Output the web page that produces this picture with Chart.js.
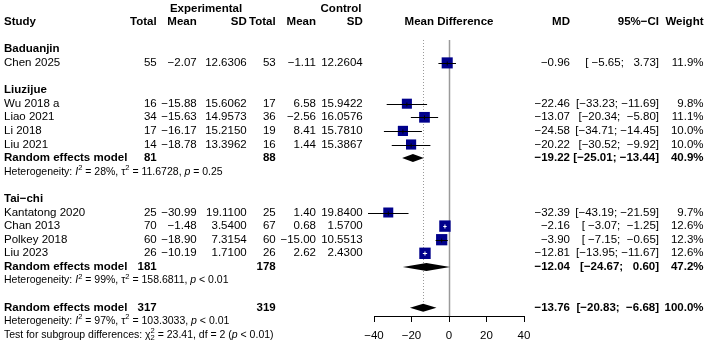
<!DOCTYPE html>
<html>
<head>
<meta charset="utf-8">
<script src="https://cdn.jsdelivr.net/npm/chart.js@4.4.1/dist/chart.umd.min.js"></script>
<style>
    html, body { margin: 0; padding: 0; background: #fff; }
    #wrap { width: 708px; height: 346px; position: relative; }
</style>
</head>
<body>
<div id="wrap"><canvas id="forestChart"></canvas></div>
<script>
// 연구별 데이터
const groups = ['Baduanjin', 'Liuzijue', 'Tai−chi'];
const studies = ['Chen 2025', 'Wu 2018 a', 'Liao 2021', 'Li 2018', 'Liu 2021',
    'Kantatong 2020', 'Chan 2013', 'Polkey 2018', 'Liu 2023'];
const studyGroup = [0, 1, 1, 1, 1, 2, 2, 2, 2];
const totalE = [55, 16, 34, 17, 14, 25, 70, 60, 26];
const meanE = [-2.07, -15.88, -15.63, -16.17, -18.78, -30.99, -1.48, -18.90, -10.19];
const sdE = [12.6306, 15.6062, 14.9573, 15.2150, 13.3962, 19.1100, 3.5400, 7.3154, 1.7100];
const totalC = [53, 17, 36, 19, 16, 25, 67, 60, 26];
const meanC = [-1.11, 6.58, -2.56, 8.41, 1.44, 1.40, 0.68, -15.00, 2.62];
const sdC = [12.2604, 15.9422, 16.0576, 15.7810, 15.3867, 19.8400, 1.5700, 10.5513, 2.4300];
const md = [-0.96, -22.46, -13.07, -24.58, -20.22, -32.39, -2.16, -3.90, -12.81];
const ciLow = [-5.65, -33.23, -20.34, -34.71, -30.52, -43.19, -3.07, -7.15, -13.95];
const ciHigh = [3.73, -11.69, -5.80, -14.45, -9.92, -21.59, -1.25, -0.65, -11.67];
const weight = [11.9, 9.8, 11.1, 10.0, 10.0, 9.7, 12.6, 12.3, 12.6];

// 하위그룹 요약 (Baduanjin은 연구 1개라 요약 없음)
const subTotalE = [null, 81, 181];
const subTotalC = [null, 88, 178];
const subMd = [null, -19.22, -12.04];
const subLow = [null, -25.01, -24.67];
const subHigh = [null, -13.44, 0.60];
const subWeight = [null, 40.9, 47.2];
const subI2 = [null, '28%', '99%'];
const subTau2 = [null, '11.6728', '158.6811'];
const subP = [null, '= 0.25', '< 0.01'];

// 전체 요약
const allTotalE = 317, allTotalC = 319;
const allMd = -13.76, allLow = -20.83, allHigh = -6.68, allWeight = 100.0;
const allI2 = '97%', allTau2 = '103.3033', allP = '< 0.01';
const testChi2 = '23.41', testDf = 2, testP = '< 0.01';

const xTicks = [-40, -20, 0, 20, 40];

const FONT = '"Liberation Sans", Arial, sans-serif';
const FS = 11.5;
const FS_SMALL = 10.5;

// 숫자 포맷 (R 스타일 마이너스)
function fmt(v, d) {
    return v.toFixed(d).replace('-', '−');
}

// 행 배치 계산
const groupRow = [], studyRow = [], subRow = [];
let row = 3;
groups.forEach((g, gi) => {
    groupRow[gi] = row++;
    studies.forEach((s, i) => {
        if (studyGroup[i] === gi) studyRow[i] = row++;
    });
    if (subMd[gi] !== null) {
        subRow[gi] = row;
        row += 2;
    }
    row++;
});
const allRow = row;

// CI 문자열 (폭 맞춤)
const lowStrs = ciLow.concat(subLow.filter(v => v !== null), [allLow]).map(v => fmt(v, 2));
const highStrs = ciHigh.concat(subHigh.filter(v => v !== null), [allHigh]).map(v => fmt(v, 2));
const lowW = Math.max(...lowStrs.map(s => s.length));
const highW = Math.max(...highStrs.map(s => s.length));
function ciText(lo, hi) {
    return '[' + fmt(lo, 2).padStart(lowW, ' ') + '; ' + fmt(hi, 2).padStart(highW, ' ') + ']';
}

function boxSide(w) {
    return 11.4 * Math.sqrt(w / 12.6);
}

function drawRich(ctx, parts, x, y, size) {
    ctx.textAlign = 'left';
    parts.forEach(p => {
        if (p.supsub) {
            const s = size * 0.72;
            ctx.font = s + 'px ' + FONT;
            ctx.fillText(p.supsub[0], x, y - size * 0.38);
            ctx.fillText(p.supsub[1], x, y + size * 0.3);
            x += ctx.measureText(p.supsub[0]).width;
            return;
        }
        const s = p.sup ? size * 0.72 : size;
        ctx.font = (p.it ? 'italic ' : '') + s + 'px ' + FONT;
        const dy = p.sup ? -size * 0.38 : 0;
        ctx.fillText(p.t, x, y + dy);
        x += ctx.measureText(p.t).width;
    });
}

function hetParts(i2, tau2, p) {
    return [
        { t: 'Heterogeneity: ' }, { t: 'I', it: true }, { t: '2', sup: true },
        { t: ' = ' + i2 + ', ' }, { t: 'τ' }, { t: '2', sup: true },
        { t: ' = ' + tau2 + ', ' }, { t: 'p', it: true }, { t: ' ' + p }
    ];
}

// 표 텍스트를 그리는 플러그인
const tablePlugin = {
    id: 'forestTable',
    afterDraw(chart) {
        const ctx = chart.ctx;
        const yS = chart.scales.y;
        const xS = chart.scales.x;
        const Y = r => yS.getPixelForValue(r);
        const col = { totE: 156.7, meanE: 196.7, sdE: 246.7, totC: 275.7, meanC: 316, sdC: 362.7,
            md: 570, ci: 659, w: 703.5 };

        ctx.save();
        ctx.fillStyle = '#000';
        ctx.textBaseline = 'middle';

        function txt(s, x, y, align, bold, size) {
            ctx.font = (bold ? 'bold ' : '') + (size || FS) + 'px ' + FONT;
            ctx.textAlign = align;
            ctx.fillText(s, x, y);
        }

        // 헤더
        txt('Experimental', 206, Y(0), 'center', true);
        txt('Control', 341, Y(0), 'center', true);
        const hy = Y(1);
        txt('Study', 4, hy, 'left', true);
        txt('Total', col.totE, hy, 'right', true);
        txt('Mean', col.meanE, hy, 'right', true);
        txt('SD', col.sdE, hy, 'right', true);
        txt('Total', col.totC, hy, 'right', true);
        txt('Mean', col.meanC, hy, 'right', true);
        txt('SD', col.sdC, hy, 'right', true);
        txt('Mean Difference', xS.getPixelForValue(0), hy, 'center', true);
        txt('MD', col.md, hy, 'right', true);
        txt('95%−CI', col.ci, hy, 'right', true);
        txt('Weight', col.w, hy, 'right', true);

        groups.forEach((g, gi) => {
            txt(g, 4, Y(groupRow[gi]), 'left', true);
            if (subMd[gi] !== null) {
                const y = Y(subRow[gi]);
                txt('Random effects model', 4, y, 'left', true);
                txt(String(subTotalE[gi]), col.totE, y, 'right', true);
                txt(String(subTotalC[gi]), col.totC, y, 'right', true);
                txt(fmt(subMd[gi], 2), col.md, y, 'right', true);
                txt(ciText(subLow[gi], subHigh[gi]), col.ci, y, 'right', true);
                txt(subWeight[gi].toFixed(1) + '%', col.w, y, 'right', true);
                drawRich(ctx, hetParts(subI2[gi], subTau2[gi], subP[gi]), 4, Y(subRow[gi] + 1), FS_SMALL);
            }
        });

        studies.forEach((s, i) => {
            const y = Y(studyRow[i]);
            txt(s, 4, y, 'left', false);
            txt(String(totalE[i]), col.totE, y, 'right');
            txt(fmt(meanE[i], 2), col.meanE, y, 'right');
            txt(sdE[i].toFixed(4), col.sdE, y, 'right');
            txt(String(totalC[i]), col.totC, y, 'right');
            txt(fmt(meanC[i], 2), col.meanC, y, 'right');
            txt(sdC[i].toFixed(4), col.sdC, y, 'right');
            txt(fmt(md[i], 2), col.md, y, 'right');
            txt(ciText(ciLow[i], ciHigh[i]), col.ci, y, 'right');
            txt(weight[i].toFixed(1) + '%', col.w, y, 'right');
        });

        // 전체 요약
        const ay = Y(allRow);
        txt('Random effects model', 4, ay, 'left', true);
        txt(String(allTotalE), col.totE, ay, 'right', true);
        txt(String(allTotalC), col.totC, ay, 'right', true);
        txt(fmt(allMd, 2), col.md, ay, 'right', true);
        txt(ciText(allLow, allHigh), col.ci, ay, 'right', true);
        txt(allWeight.toFixed(1) + '%', col.w, ay, 'right', true);
        drawRich(ctx, hetParts(allI2, allTau2, allP), 4, Y(allRow + 1), FS_SMALL);
        drawRich(ctx, [
            { t: 'Test for subgroup differences: ' }, { t: 'χ' }, { supsub: ['2', String(testDf)] },
            { t: ' = ' + testChi2 + ', df = ' + testDf + ' (' }, { t: 'p', it: true }, { t: ' ' + testP + ')' }
        ], 4, Y(allRow + 2), FS_SMALL);

        ctx.restore();
    }
};

// 기준선, CI 선, 다이아몬드를 그리는 플러그인
const marksPlugin = {
    id: 'forestMarks',
    beforeDatasetsDraw(chart) {
        const ctx = chart.ctx;
        const xS = chart.scales.x, yS = chart.scales.y;
        const area = chart.chartArea;
        ctx.save();
        // 0 기준선
        const x0 = Math.round(xS.getPixelForValue(0)) + 0.5;
        ctx.strokeStyle = '#9a9a9a';
        ctx.lineWidth = 1.5;
        ctx.beginPath();
        ctx.moveTo(x0, area.top);
        ctx.lineTo(x0, area.bottom);
        ctx.stroke();
        // 전체 효과 점선
        const xm = Math.round(xS.getPixelForValue(allMd)) + 0.5;
        ctx.lineWidth = 1;
        ctx.setLineDash([1, 2]);
        ctx.beginPath();
        ctx.moveTo(xm, area.top);
        ctx.lineTo(xm, yS.getPixelForValue(allRow - 0.2));
        ctx.stroke();
        ctx.restore();
    },
    afterDatasetsDraw(chart) {
        const ctx = chart.ctx;
        const xS = chart.scales.x, yS = chart.scales.y;
        ctx.save();
        ctx.lineWidth = 1;
        studies.forEach((s, i) => {
            const y = Math.round(yS.getPixelForValue(studyRow[i])) + 0.5;
            const xl = xS.getPixelForValue(ciLow[i]);
            const xh = xS.getPixelForValue(ciHigh[i]);
            const xc = xS.getPixelForValue(md[i]);
            const half = boxSide(weight[i]) / 2;
            const inside = xl > xc - half && xh < xc + half;
            ctx.strokeStyle = inside ? '#fff' : '#000';
            ctx.beginPath();
            ctx.moveTo(xl, y);
            ctx.lineTo(xh, y);
            ctx.moveTo(xc, y - 2);
            ctx.lineTo(xc, y + 2);
            ctx.stroke();
        });
        // 다이아몬드
        const diamonds = [];
        groups.forEach((g, gi) => {
            if (subMd[gi] !== null) diamonds.push([subMd[gi], subLow[gi], subHigh[gi], subRow[gi]]);
        });
        diamonds.push([allMd, allLow, allHigh, allRow]);
        ctx.fillStyle = '#000';
        diamonds.forEach(d => {
            const y = yS.getPixelForValue(d[3]);
            const xc = xS.getPixelForValue(d[0]);
            ctx.beginPath();
            ctx.moveTo(xS.getPixelForValue(d[1]), y);
            ctx.lineTo(xc, y - 4);
            ctx.lineTo(xS.getPixelForValue(d[2]), y);
            ctx.lineTo(xc, y + 4);
            ctx.closePath();
            ctx.fill();
        });
        ctx.restore();
    }
};

const ctx = document.getElementById('forestChart').getContext('2d');
new Chart(ctx, {
    type: 'scatter',
    data: {
        datasets: [{
            label: 'studies',
            data: studies.map((s, i) => ({ x: md[i], y: studyRow[i] })),
            pointStyle: 'rect',
            pointRadius: weight.map(w => boxSide(w) / 2 / Math.SQRT1_2),
            backgroundColor: '#00008B',
            borderColor: '#00008B',
            borderWidth: 0,
            clip: false
        }]
    },
    options: {
        responsive: true,
        maintainAspectRatio: false,
        animation: false,
        devicePixelRatio: 1,
        layout: { padding: { left: 374, right: 184, top: 40, bottom: 0 } },
        plugins: { legend: { display: false }, tooltip: { enabled: false } },
        scales: {
            x: {
                type: 'linear',
                min: -40,
                max: 40,
                afterBuildTicks: scale => { scale.ticks = xTicks.map(v => ({ value: v })); },
                afterFit: scale => { scale.height = 30; },
                border: { display: true, color: '#000', width: 1 },
                grid: { drawOnChartArea: false, drawTicks: true, tickLength: 6, color: '#000' },
                ticks: {
                    color: '#000',
                    padding: 7,
                    maxRotation: 0,
                    font: { family: FONT, size: FS },
                    callback: v => String(v).replace('-', '−')
                }
            },
            y: {
                type: 'linear',
                display: false,
                reverse: true,
                min: 2.316,
                max: 22.61
            }
        }
    },
    plugins: [marksPlugin, tablePlugin]
});
</script>
</body>
</html>
